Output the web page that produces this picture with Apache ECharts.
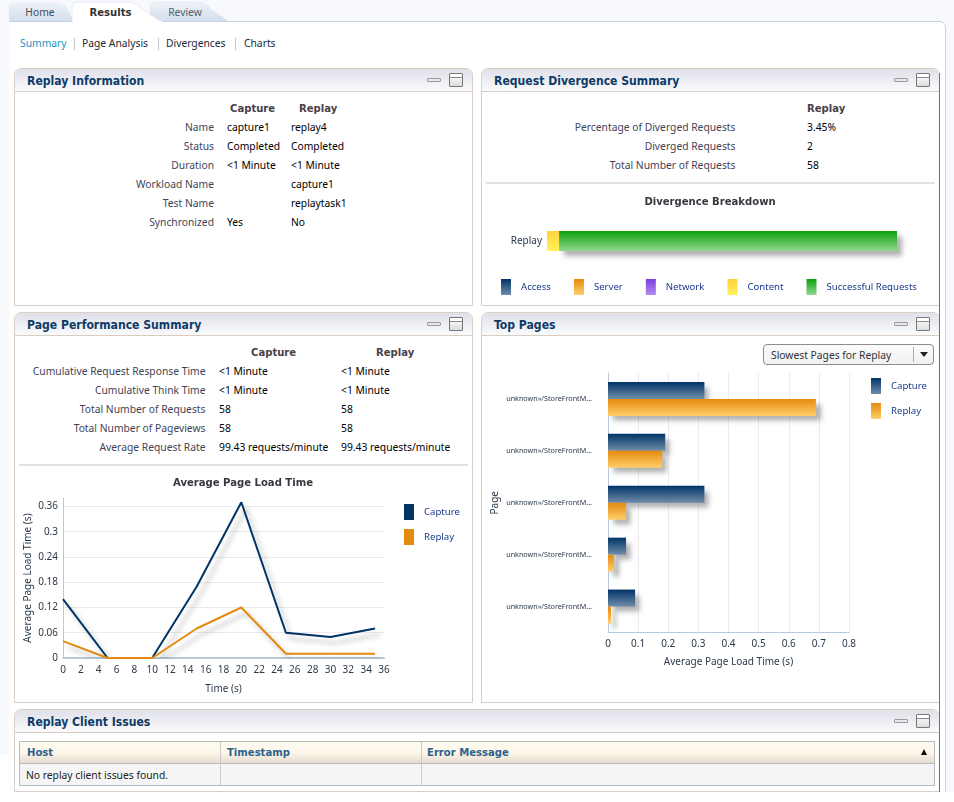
<!DOCTYPE html>
<html><head><meta charset="utf-8">
<script src="https://cdn.jsdelivr.net/npm/echarts@6/dist/echarts.min.js"></script>
<style>
html,body{margin:0;padding:0;background:#fff;}
body{position:relative;width:954px;height:802px;overflow:hidden;font-family:"Noto Sans",sans-serif;font-size:10.3px;color:#000;}
.abs{position:absolute;}
.t{position:absolute;white-space:nowrap;line-height:14px;height:14px;}
.lab{color:#434356;}
.hd{font-family:"DejaVu Sans Condensed","DejaVu Sans",sans-serif;font-stretch:condensed;font-weight:bold;color:#4a4048;font-size:11.2px;margin-top:1px;}
.panel{position:absolute;box-sizing:border-box;border:1px solid #d9cfc6;border-radius:7px 7px 0 0;background:#fff;}
.phead{position:absolute;left:0;right:0;top:0;height:22px;border-bottom:1px solid #d9cdc2;border-radius:6px 6px 0 0;background:linear-gradient(#dfe0e9,#fbfbfd);}
.ptitle{position:absolute;left:12px;top:5px;font-family:"DejaVu Sans Condensed","DejaVu Sans",sans-serif;font-stretch:condensed;font-weight:bold;font-size:12.1px;color:#0d3b66;white-space:nowrap;line-height:15px;}
.imin{position:absolute;top:9px;width:12px;height:2px;border:1px solid #9a9a9a;background:#e8e8e8;border-radius:1px;}
.iwin{position:absolute;top:4px;width:12px;height:12px;border:1px solid #777;background:linear-gradient(#fff 0,#fff 3px,#888 3px,#888 4px,#f4f4f4 4px,#ddd);border-radius:1px;}
.chart{position:absolute;}
</style></head>
<body>
<div class="abs" id="stage" style="left:0;top:0;width:954px;height:802px;"></div>
<div id="c1" class="chart" style="left:482px;top:190px;width:457px;height:115px;"></div>
<div id="c2" class="chart" style="left:15px;top:470px;width:457px;height:232px;"></div>
<div id="c3" class="chart" style="left:482px;top:340px;width:457px;height:362px;"></div>
<script>
// ---- data ----
const tabLabels = ['Home','Results','Review'];
const navLinks = ['Summary','Page Analysis','Divergences','Charts'];
const replayInfoLabels = ['Name','Status','Duration','Workload Name','Test Name','Synchronized'];
const replayInfoCapture = ['capture1','Completed','<1 Minute','','','Yes'];
const replayInfoReplay = ['replay4','Completed','<1 Minute','capture1','replaytask1','No'];
const divergenceLabels = ['Percentage of Diverged Requests','Diverged Requests','Total Number of Requests'];
const divergenceValues = ['3.45%','2','58'];
const perfLabels = ['Cumulative Request Response Time','Cumulative Think Time','Total Number of Requests','Total Number of Pageviews','Average Request Rate'];
const perfCapture = ['<1 Minute','<1 Minute','58','58','99.43 requests/minute'];
const perfReplay = ['<1 Minute','<1 Minute','58','58','99.43 requests/minute'];
const issueColumns = ['Host','Timestamp','Error Message'];
const issueEmpty = 'No replay client issues found.';

const breakdownNames = ['Access','Server','Network','Content','Successful Requests'];
const breakdownValues = [0,0,0,3.45,96.55];

const loadTimes = [0,5,10,15,20,25,30,35];
const loadCapture = [0.14,0,0,0.17,0.37,0.06,0.05,0.07];
const loadReplay = [0.04,0,0,0.07,0.12,0.01,0.01,0.01];

const pageLabels = ['unknown»/StoreFrontM...','unknown»/StoreFrontM...','unknown»/StoreFrontM...','unknown»/StoreFrontM...','unknown»/StoreFrontM...'];
const pageCapture = [0.32,0.19,0.32,0.06,0.09];
const pageReplay = [0.69,0.18,0.06,0.02,0.01];

// ---- page chrome ----
const stage = document.getElementById('stage');
function el(html){const d=document.createElement('div');d.innerHTML=html;const n=d.firstChild;stage.appendChild(n);return n;}
function esc(s){return s.replace(/&/g,'&amp;').replace(/</g,'&lt;');}
function T(x,y,s,cls,align,style){
  let pos = align==='r' ? `right:${954-x}px;` : align==='c' ? `left:${x-150}px;width:300px;text-align:center;` : `left:${x}px;`;
  el(`<div class="t ${cls||''}" style="${pos}top:${y-7}px;${style||''}">${esc(s)}</div>`);
}
function panel(x,y,w,h,title){
  const iconR = 9;
  el(`<div class="panel" style="left:${x}px;top:${y}px;width:${w}px;height:${h}px;"><div class="phead"><div class="ptitle">${title}</div><div class="imin" style="right:${iconR+22}px"></div><div class="iwin" style="right:${iconR}px"></div></div></div>`);
}
// outer backdrop and content frame
el('<div class="abs" style="left:0;top:0;width:954px;height:21px;background:#f7f9fd;"></div>');
el('<div class="abs" style="left:0;top:0;width:9px;height:755px;background:#f7f9fd;"></div>');
el('<div class="abs" style="left:946px;top:0;width:8px;height:792px;background:#f7f9fd;"></div>');
el('<div class="abs" style="left:9px;top:21px;width:937px;height:771px;background:#fff;box-sizing:border-box;border-top:1px solid #c3cfe0;border-right:1px solid #c8d3e4;border-top-right-radius:6px;"></div>');
// tabs
el(`<svg class="abs" style="left:0;top:0" width="240" height="23"><defs><linearGradient id="tg" x1="0" y1="0" x2="0" y2="1"><stop offset="0" stop-color="#eef2f8"/><stop offset="1" stop-color="#d3dfec"/></linearGradient></defs>
<path d="M9 21 V6 Q9 2 14 2 H56 Q64 2 68 9 L73 21 Z" fill="url(#tg)"/>
<path d="M150 21 V7 Q150 2 156 2 H198 Q206 2 212 10 L228 21 Z" fill="url(#tg)" stroke="#d9e3ee" stroke-width="0.5"/>
<path d="M72 21.5 V7 Q72 2 80 2 H128 Q136 2 142 9 L161 21.5 Z" fill="#fff" stroke="#dbe4ef" stroke-width="0.7"/>
<path d="M73 21.6 H162" stroke="#fff" stroke-width="1.5"/></svg>`);
T(40,12,tabLabels[0],'','c','color:#3f4a5a;');
T(110.5,12,tabLabels[1],'hd','c','color:#333;');
T(185,12,tabLabels[2],'','c','color:#4d5f70;');
const navX=[20,82,166,244], sepX=[74,158,235];
navLinks.forEach((s,i)=>T(navX[i],43,s,'','', i===0?'color:#1f93c4;':'color:#1c2a3a;'));
sepX.forEach(x=>el(`<div class="abs" style="left:${x}px;top:38px;width:1px;height:12px;background:#c4c8cc;"></div>`));

panel(14,68,459,238,'Replay Information');
panel(481,68,459,238,'Request Divergence Summary');
panel(14,312,459,391,'Page Performance Summary');
panel(481,312,459,391,'Top Pages');
panel(14,709,926,83,'Replay Client Issues');
// dark right edge line seen in the reference
el('<div class="abs" style="left:939px;top:73px;width:1px;height:719px;background:#6f6f6f;"></div>');

// Replay Information
T(230,108,'Capture','hd'); T(299,108,'Replay','hd');
const rowsA=[127,146,165,184,203,222];
replayInfoLabels.forEach((s,i)=>{T(214,rowsA[i],s,'lab','r');T(227,rowsA[i],replayInfoCapture[i]);T(291,rowsA[i],replayInfoReplay[i]);});
// Divergence summary
T(807,108,'Replay','hd');
divergenceLabels.forEach((s,i)=>{T(735.5,rowsA[i],s,'lab','r');T(807,rowsA[i],divergenceValues[i]);});
el('<div class="abs" style="left:486px;top:182px;width:449px;height:2px;background:#dfe4e2;"></div>');
// Page perf
T(251,352,'Capture','hd'); T(376,352,'Replay','hd');
const rowsB=[371,390,409,428,447];
perfLabels.forEach((s,i)=>{T(205.5,rowsB[i],s,'lab','r');T(219,rowsB[i],perfCapture[i]);T(341,rowsB[i],perfReplay[i]);});
el('<div class="abs" style="left:19px;top:464px;width:449px;height:2px;background:#dfe4e2;"></div>');
// dropdown
el('<div class="abs" style="left:763px;top:344px;width:171px;height:21px;box-sizing:border-box;border:1px solid #8d8d8d;border-radius:4px;background:linear-gradient(#fbfbfb,#f1f1f1);"></div>');
T(771,355,'Slowest Pages for Replay','','','color:#333;');
el('<div class="abs" style="left:913px;top:347px;width:1px;height:15px;background:#aaa;"></div>');
el('<div class="abs" style="left:920px;top:352px;width:0;height:0;border-left:4px solid transparent;border-right:4px solid transparent;border-top:5px solid #222;"></div>');
// issues table
el(`<div class="abs" style="left:19px;top:741px;width:916px;height:45px;box-sizing:border-box;border:1px solid #b8bcbc;background:#f5f5f5;"></div>`);
el(`<div class="abs" style="left:20px;top:742px;width:914px;height:21px;border-bottom:1px solid #b8bcbc;background:linear-gradient(#fffaf0 0,#fdf7ea 50%,#e3dccf 100%);"></div>`);
[220,421].forEach(x=>el(`<div class="abs" style="left:${x}px;top:742px;width:1px;height:43px;background:#c9cccc;"></div>`));
const issueX=[27,227,427];
issueColumns.forEach((s,i)=>T(issueX[i],752,s,'hd','','color:#2d6190;'));
T(26,775,issueEmpty,'','','color:#222;');
el('<div class="abs" style="left:921px;top:749px;width:0;height:0;border-left:3px solid transparent;border-right:3px solid transparent;border-bottom:6px solid #111;"></div>');

// ---- charts ----
const FONT = '"Noto Sans",sans-serif';
const BOLD = '"DejaVu Sans Condensed","DejaVu Sans",sans-serif';
const G = (a,b)=>new echarts.graphic.LinearGradient(0,0,0,1,[{offset:0,color:a},{offset:1,color:b}]);
const fills = {
  Access:G('#003366','#6f8daa'), Server:G('#e58a10','#ffcf6a'), Network:G('#7a3fe0','#b48cf5'),
  Content:G('#ffd23a','#fff25a'), 'Successful Requests':G('#0ca00c','#90d890'),
  Capture:G('#003366','#6f8daa'), Replay:G('#e58a10','#ffcf6a')
};
const axisTxt = {color:'#2c3a4a',fontSize:10,fontFamily:FONT};
const legendTxt = {color:'#1b3a8c',fontSize:9.6,fontFamily:FONT,padding:[0,0,0,5]};
const titleTxt = {fontSize:11.2,fontWeight:'bold',color:'#3a3640',fontFamily:BOLD};
const SHADOW = {shadowColor:'rgba(60,60,60,0.4)',shadowBlur:5,shadowOffsetX:5,shadowOffsetY:5};

const c1 = echarts.init(document.getElementById('c1'));
c1.setOption({
  animation:false,
  title:{text:'Divergence Breakdown',left:223,top:2,textAlign:'center',textStyle:titleTxt},
  legend:{left:14,top:84,width:450,icon:'rect',itemWidth:10,itemHeight:16,itemGap:23,textStyle:legendTxt,data:breakdownNames,selectedMode:false},
  grid:{left:65,top:41,width:350,height:20,outerBoundsMode:'none'},
  xAxis:{type:'value',min:0,max:100,show:false},
  yAxis:{type:'category',data:['Replay'],axisLine:{show:false},axisTick:{show:false},axisLabel:{...axisTxt,margin:5}},
  series:breakdownNames.map((n,i)=>({name:n,type:'bar',stack:'a',barWidth:20,data:[breakdownValues[i]],itemStyle:{color:fills[n],...(i===4?SHADOW:{})}}))
});

const c2 = echarts.init(document.getElementById('c2'));
const lineShadow={shadowColor:'rgba(70,70,70,0.35)',shadowBlur:5,shadowOffsetX:5,shadowOffsetY:6};
c2.setOption({
  animation:false,
  title:{text:'Average Page Load Time',left:223,top:3,textAlign:'center',textStyle:titleTxt},
  legend:{left:384,top:29,orient:'vertical',icon:'rect',itemWidth:10,itemHeight:16,itemGap:9,textStyle:legendTxt,data:['Capture','Replay'],selectedMode:false},
  grid:{left:48,top:28,width:321,height:160,outerBoundsMode:'none'},
  xAxis:{type:'value',min:0,max:36,interval:2,name:'Time (s)',nameLocation:'middle',nameGap:26,nameTextStyle:axisTxt,
    axisLine:{lineStyle:{color:'#b9c9da',width:2}},axisTick:{show:false},splitLine:{show:false},axisLabel:{...axisTxt,margin:7}},
  yAxis:{type:'value',min:0,max:0.38,interval:0.06,name:'Average Page Load Time (s)',nameLocation:'middle',nameGap:30,nameMoveOverlap:false,nameTextStyle:axisTxt,
    axisLine:{show:true,lineStyle:{color:'#b9c9da',width:1}},axisTick:{show:false},splitLine:{show:true,showMaxLine:false,lineStyle:{color:'#e9ecee'}},
    axisLabel:{...axisTxt,margin:5,showMaxLabel:false}},
  series:[
    {name:'Capture',type:'line',showSymbol:false,data:loadTimes.map((t,i)=>[t,loadCapture[i]]),itemStyle:{color:'#003366'},lineStyle:{color:'#003366',width:2,...lineShadow}},
    {name:'Replay',type:'line',showSymbol:false,data:loadTimes.map((t,i)=>[t,loadReplay[i]]),itemStyle:{color:'#e58a10'},lineStyle:{color:'#e58a10',width:2,...lineShadow}}
  ]
});

const c3 = echarts.init(document.getElementById('c3'));
c3.setOption({
  animation:false,
  legend:{left:384,top:33,orient:'vertical',icon:'rect',itemWidth:10,itemHeight:16,itemGap:9,textStyle:legendTxt,data:['Capture','Replay'],selectedMode:false},
  grid:{left:126,top:33,width:241,height:259.5,outerBoundsMode:'none'},
  xAxis:{type:'value',min:0,max:0.8,interval:0.1,name:'Average Page Load Time (s)',nameLocation:'middle',nameGap:25,nameTextStyle:axisTxt,
    axisLine:{show:true,lineStyle:{color:'#b9c9da',width:1}},axisTick:{show:false},splitLine:{show:true,lineStyle:{color:'#e9ecee'}},axisLabel:{...axisTxt,margin:7}},
  yAxis:{type:'category',inverse:true,data:pageLabels,name:'Page',nameLocation:'middle',nameGap:108,nameMoveOverlap:false,nameTextStyle:{...axisTxt},
    axisLine:{lineStyle:{color:'#b9c9da',width:1}},axisTick:{show:false},axisLabel:{color:'#2c3a4a',fontSize:7.2,fontFamily:FONT,margin:16}},
  series:[
    {name:'Capture',type:'bar',barWidth:17,barGap:0,data:pageCapture,itemStyle:{color:fills.Capture,...SHADOW}},
    {name:'Replay',type:'bar',barWidth:17,data:pageReplay,itemStyle:{color:fills.Replay,...SHADOW}}
  ]
});
</script>
</body></html>
